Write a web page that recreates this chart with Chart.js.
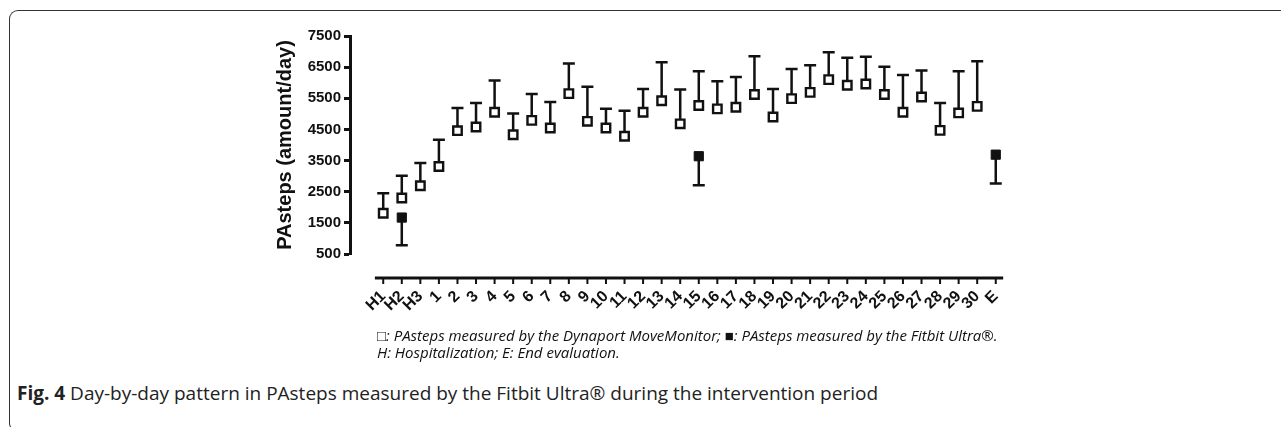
<!DOCTYPE html>
<html>
<head>
<meta charset="utf-8">
<script src="https://cdn.jsdelivr.net/npm/chart.js@4.4.1/dist/chart.umd.min.js"></script>
<style>
  body { margin: 0; background: #fff; }
  #wrap { position: relative; width: 1281px; height: 427px; overflow: hidden; }
  #frame { position: absolute; left: 9px; top: 10px; width: 1400px; height: 420px;
           border-left: 1.5px solid #333; border-top: 1.5px solid #333;
           border-bottom: 1.5px solid #333;
           border-top-left-radius: 9px; border-bottom-left-radius: 9px; }
  #plot { position: absolute; left: 0; top: 0; }
  #note { position: absolute; left: 377px; top: 327px; font: italic 15px "Open Sans", sans-serif;
          line-height: 17px; color: #111; }
  #caption { position: absolute; left: 17px; top: 380px; font: 19px "Open Sans", sans-serif; color: #222; }
  #caption b { font-weight: 700; }
</style>
</head>
<body>
<div id="wrap">
  <div id="frame"></div>
  <canvas id="plot" width="1281" height="330"></canvas>
  <div id="note">□: PAsteps measured by the Dynaport MoveMonitor; ■: PAsteps measured by the Fitbit Ultra®.<br>H: Hospitalization; E: End evaluation.</div>
  <div id="caption"><b>Fig. 4</b> Day-by-day pattern in PAsteps measured by the Fitbit Ultra® during the intervention period</div>
</div>
<script>
// categories (days)
var categories = ["H1","H2","H3","1","2","3","4","5","6","7","8","9","10","11","12","13","14","15",
  "16","17","18","19","20","21","22","23","24","25","26","27","28","29","30","E"];
// Dynaport MoveMonitor: mean and upper error
var dynaportMean = [1810,2300,2690,3310,4460,4580,5050,4330,4790,4545,5650,4760,4545,4280,5050,5420,4680,5270,
  5160,5210,5620,4900,5490,5690,6100,5920,5960,5620,5050,5540,4470,5030,5240,null];
var dynaportUpper = [2450,3010,3420,4170,5190,5350,6070,5010,5640,5380,6620,5870,5160,5100,5800,6660,5780,6370,
  6050,6180,6850,5800,6440,6560,6980,6800,6830,6510,6250,6390,5350,6370,6690,null];
// Fitbit Ultra: mean and lower error (only H2, day 15, E)
var fitbitMean = [null,1670,null,null,null,null,null,null,null,null,null,null,null,null,null,null,null,3640,
  null,null,null,null,null,null,null,null,null,null,null,null,null,null,null,3690];
var fitbitLower = [null,780,null,null,null,null,null,null,null,null,null,null,null,null,null,null,null,2710,
  null,null,null,null,null,null,null,null,null,null,null,null,null,null,null,2760];
var yTicks = [500,1500,2500,3500,4500,5500,6500,7500];

var boldFont = "'Liberation Sans', Arial, Helvetica, sans-serif";

function toPoints(arr){
  var pts = [];
  for(var i = 0; i < arr.length; i++){
    if(arr[i] != null) pts.push({x: i, y: arr[i]});
  }
  return pts;
}

// error bars drawn behind the markers
var errorBars = {
  id: 'errorBars',
  beforeDatasetsDraw: function(chart){
    var ctx = chart.ctx, x = chart.scales.x, y = chart.scales.y;
    ctx.save();
    ctx.strokeStyle = '#111';
    ctx.lineWidth = 2.5;
    function bar(i, from, to){
      if(from == null || to == null) return;
      var px = x.getPixelForValue(i);
      ctx.beginPath();
      ctx.moveTo(px, y.getPixelForValue(from));
      ctx.lineTo(px, y.getPixelForValue(to));
      ctx.moveTo(px - 6, y.getPixelForValue(to));
      ctx.lineTo(px + 6, y.getPixelForValue(to));
      ctx.stroke();
    }
    for(var i = 0; i < categories.length; i++){
      bar(i, dynaportMean[i], dynaportUpper[i]);
      bar(i, fitbitMean[i], fitbitLower[i]);
    }
    ctx.restore();
  }
};

// detached x axis line (prism style) below the plot
var xAxisLine = {
  id: 'xAxisLine',
  afterDraw: function(chart){
    var ctx = chart.ctx, x = chart.scales.x;
    var base = chart.chartArea.bottom + 24;
    ctx.save();
    ctx.strokeStyle = '#111';
    ctx.lineWidth = 3;
    ctx.beginPath();
    ctx.moveTo(x.getPixelForValue(-0.45), base);
    ctx.lineTo(x.getPixelForValue(33.4), base);
    ctx.stroke();
    ctx.lineWidth = 2;
    ctx.beginPath();
    for(var i = 0; i < categories.length; i++){
      var px = x.getPixelForValue(i);
      ctx.moveTo(px, base);
      ctx.lineTo(px, base + 6);
    }
    ctx.stroke();
    ctx.restore();
  }
};

var chart = new Chart(document.getElementById("plot"), {
  type: 'scatter',
  data: {
    datasets: [
      {
        label: 'Dynaport MoveMonitor',
        data: toPoints(dynaportMean),
        pointStyle: 'rect',
        pointRadius: 6,
        pointHoverRadius: 6,
        borderWidth: 2.4,
        borderColor: '#111',
        backgroundColor: '#fff'
      },
      {
        label: 'Fitbit Ultra',
        data: toPoints(fitbitMean),
        pointStyle: 'rect',
        pointRadius: 6.5,
        pointHoverRadius: 6.5,
        borderWidth: 1,
        borderColor: '#111',
        backgroundColor: '#111'
      }
    ]
  },
  options: {
    responsive: false,
    animation: false,
    layout: { padding: { left: 250, top: 36, right: 278, bottom: 16 } },
    plugins: { legend: { display: false }, tooltip: { enabled: false } },
    scales: {
      x: {
        type: 'linear',
        min: -1.79,
        max: 33.39,
        afterFit: function(scale){ scale.height = 60; },
        afterBuildTicks: function(scale){
          scale.ticks = categories.map(function(c, i){ return {value: i}; });
        },
        grid: { display: false, drawTicks: false },
        border: { display: false },
        ticks: {
          autoSkip: false,
          minRotation: 45,
          maxRotation: 45,
          padding: 33,
          color: '#111',
          font: { family: boldFont, size: 16, weight: 'bold' },
          callback: function(value){ return categories[value]; }
        }
      },
      y: {
        min: 500,
        max: 7500,
        afterFit: function(scale){ scale.width = 100; },
        afterBuildTicks: function(scale){
          scale.ticks = yTicks.map(function(v){ return {value: v}; });
        },
        grid: { drawOnChartArea: false, tickLength: 6, tickWidth: 3, tickColor: '#111' },
        border: { display: true, width: 3, color: '#111' },
        ticks: {
          padding: 3,
          color: '#111',
          font: { family: boldFont, size: 15, weight: 'bold' },
          callback: function(value){ return String(value); }
        },
        title: {
          display: true,
          text: 'PAsteps (amount/day)',
          color: '#111',
          padding: { top: 23, bottom: 0 },
          font: { family: boldFont, size: 20, weight: 'bold' }
        }
      }
    }
  },
  plugins: [errorBars, xAxisLine]
});
</script>
</body>
</html>
